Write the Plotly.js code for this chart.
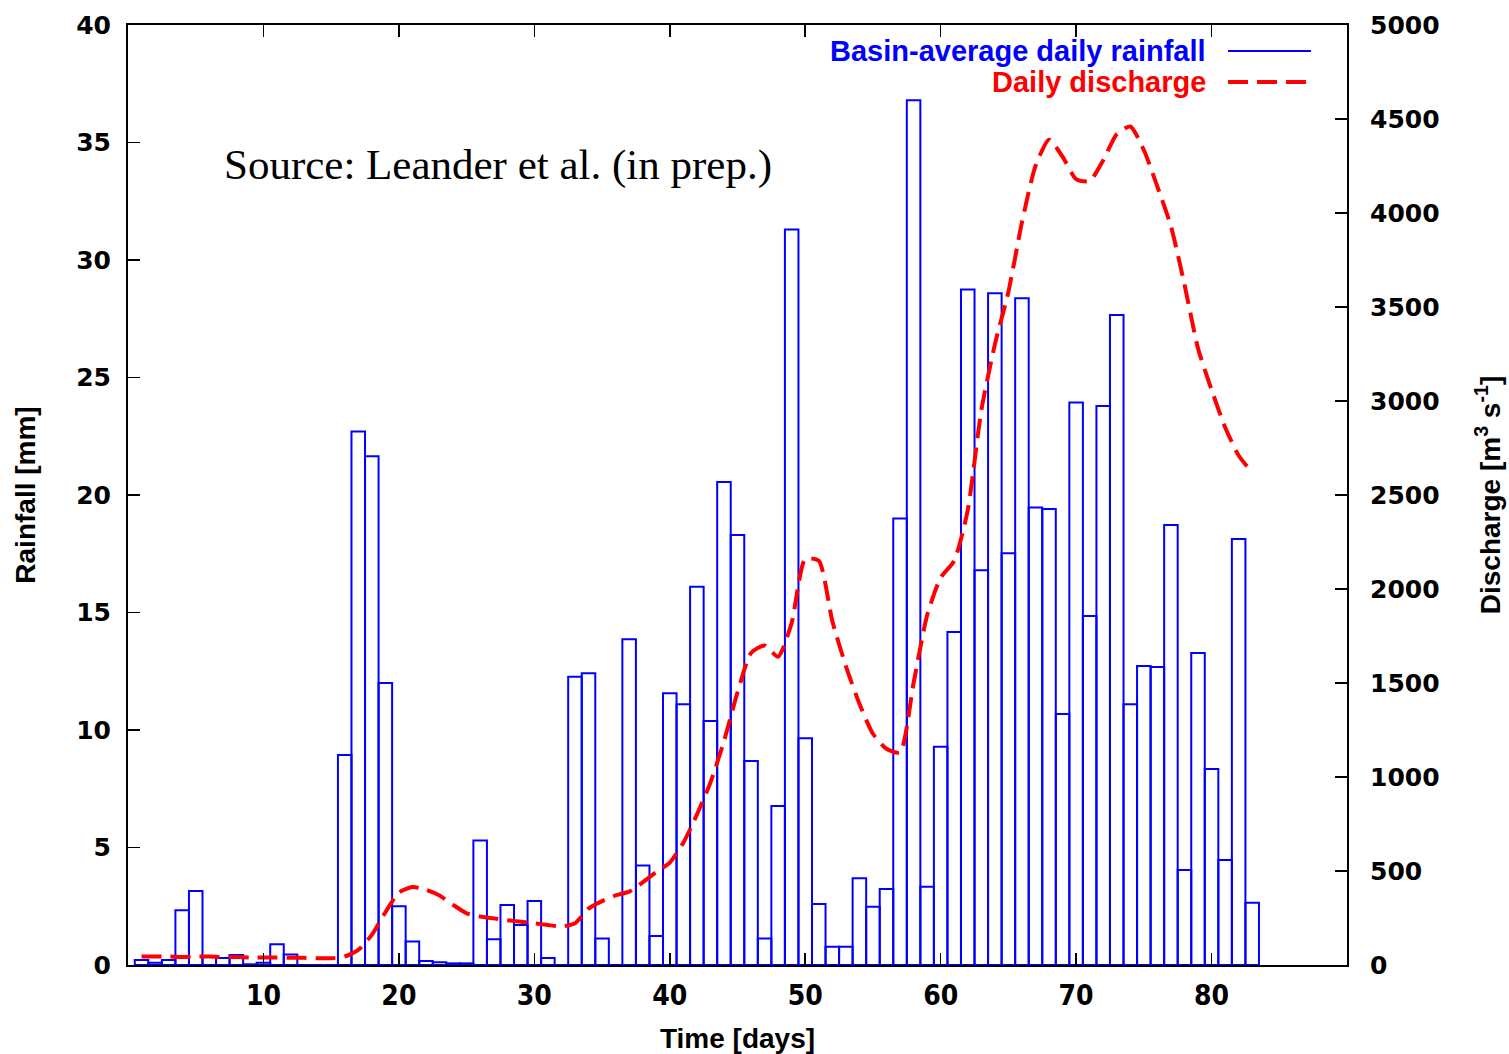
<!DOCTYPE html>
<html>
<head>
<meta charset="utf-8">
<script src="https://cdn.plot.ly/plotly-3.0.1.min.js"></script>
<style>html,body{margin:0;padding:0;background:#fff;}#chart{width:1509px;height:1054px;}</style>
</head>
<body>
<div id="chart"></div>
<script>
// Day index (bars centred on each day)
const days = [];
for (let d = 1; d <= 83; d++) days.push(d);

// Basin-average daily rainfall [mm]
const rainfall = [
  0.21, 0.10, 0.21, 2.33, 3.15, 0.38, 0.30, 0.43, 0.03, 0.10,
  0.88, 0.45, 0.00, 0.00, 0.00, 8.94, 22.70, 21.65, 12.00, 2.50,
  1.00, 0.17, 0.12, 0.07, 0.07, 5.30, 1.10, 2.55, 1.70, 2.72,
  0.30, 0.00, 12.27, 12.41, 1.13, 0.00, 13.86, 4.23, 1.23, 11.56,
  11.10, 16.10, 10.38, 20.55, 18.30, 8.68, 1.13, 6.77, 31.30, 9.65,
  2.60, 0.78, 0.78, 3.69, 2.48, 3.23, 19.00, 36.80, 3.33, 9.29,
  14.17, 28.75, 16.80, 28.58, 17.52, 28.37, 19.47, 19.40, 10.68, 23.94,
  14.85, 23.79, 27.66, 11.10, 12.72, 12.68, 18.72, 4.04, 13.28, 8.34,
  4.47, 18.13, 2.65
];

// Daily discharge [m3 s-1]
const discharge = [
  45, 45, 45, 43, 45, 45, 42, 42, 40, 40,
  40, 38, 38, 36, 36, 45, 80, 160, 280, 385,
  415, 400, 370, 320, 275, 258, 248, 238, 230, 222,
  213, 205, 222, 300, 340, 370, 390, 440, 495, 545,
  650, 800, 970, 1190, 1450, 1660, 1700, 1640, 1820, 2160,
  2150, 1830, 1590, 1390, 1230, 1150, 1130, 1500, 1860, 2060,
  2150, 2420, 2950, 3300, 3580, 3950, 4250, 4390, 4300, 4180,
  4170, 4280, 4420, 4460, 4335, 4140, 3930, 3620, 3280, 3060,
  2860, 2710, 2620
];

const xTicks = [10, 20, 30, 40, 50, 60, 70, 80];
const rainTicks = [0, 5, 10, 15, 20, 25, 30, 35, 40];
const dischargeTicks = [0, 500, 1000, 1500, 2000, 2500, 3000, 3500, 4000, 4500, 5000];

const BLUE = '#0000ff';
const RED = '#ff0000';
const tickFontY = {family: 'DejaVu Sans, Liberation Sans, sans-serif', size: 25, color: '#000', weight: 'bold'};
const tickFontX = {family: 'Liberation Sans Narrow, DejaVu Sans Condensed, Liberation Sans, sans-serif', size: 28, color: '#000', weight: 'bold'};
const titleFont = {family: 'Liberation Sans, Arial, sans-serif', size: 28, color: '#000', weight: 'bold'};

const traces = [
  {
    type: 'bar', x: days, y: rainfall, width: 1,
    marker: {color: 'rgba(0,0,0,0)', line: {color: BLUE, width: 2}},
    name: 'Basin-average daily rainfall', showlegend: false, yaxis: 'y'
  },
  {
    type: 'scatter', mode: 'lines', x: days, y: discharge, yaxis: 'y2',
    line: {color: RED, width: 4, dash: '20px,9px', shape: 'spline', smoothing: 0.6},
    name: 'Daily discharge', showlegend: false
  }
];

const layout = {
  width: 1509, height: 1054,
  margin: {l: 128, r: 162, t: 25, b: 89},
  paper_bgcolor: '#fff', plot_bgcolor: '#fff',
  showlegend: false,
  bargap: 0,
  xaxis: {
    range: [0, 90], tickvals: xTicks, ticktext: xTicks.map(String),
    ticks: 'inside', ticklen: 12, tickwidth: 1.5, tickcolor: '#000',
    showline: true, linecolor: '#000', linewidth: 2, mirror: 'ticks',
    showgrid: false, zeroline: false, tickfont: tickFontX, ticklabelstandoff: 4,
    title: {text: 'Time [days]', font: titleFont, standoff: 20}
  },
  yaxis: {
    range: [0, 40], tickvals: rainTicks, ticktext: rainTicks.map(String),
    ticks: 'inside', ticklen: 12, tickwidth: 1.5, tickcolor: '#000',
    showline: true, linecolor: '#000', linewidth: 2, mirror: false,
    showgrid: false, zeroline: false, tickfont: tickFontY, ticklabelstandoff: 10,
    title: {text: 'Rainfall [mm]', font: titleFont, standoff: 32}
  },
  yaxis2: {
    overlaying: 'y', side: 'right',
    range: [0, 5000], tickvals: dischargeTicks, ticktext: dischargeTicks.map(String),
    ticks: 'inside', ticklen: 12, tickwidth: 1.5, tickcolor: '#000',
    showline: true, linecolor: '#000', linewidth: 2,
    showgrid: false, zeroline: false, tickfont: tickFontY, ticklabelstandoff: 16,
    title: {text: 'Discharge [m<sup>3</sup> s<sup>-1</sup>]', font: titleFont, standoff: 42}
  },
  annotations: [
    {xref: 'paper', yref: 'paper', x: 0.886, y: 0.9723, xanchor: 'right', yanchor: 'middle',
     text: 'Basin-average daily rainfall', showarrow: false,
     font: {family: 'Liberation Sans, Arial, sans-serif', size: 29, color: BLUE, weight: 'bold'}},
    {xref: 'paper', yref: 'paper', x: 0.886, y: 0.9394, xanchor: 'right', yanchor: 'middle',
     text: 'Daily discharge', showarrow: false,
     font: {family: 'Liberation Sans, Arial, sans-serif', size: 29, color: RED, weight: 'bold'}},
    {xref: 'paper', yref: 'paper', x: 0.0771, y: 0.851, xanchor: 'left', yanchor: 'middle',
     text: 'Source: Leander et al. (in prep.)', showarrow: false,
     font: {family: 'Liberation Serif, Times New Roman, serif', size: 43, color: '#000'}}
  ],
  shapes: [
    {type: 'line', xref: 'paper', yref: 'paper', x0: 0.9024, x1: 0.9705, y0: 0.9723, y1: 0.9723,
     line: {color: BLUE, width: 2}},
    {type: 'line', xref: 'paper', yref: 'paper', x0: 0.9024, x1: 0.9705, y0: 0.9394, y1: 0.9394,
     line: {color: RED, width: 4, dash: '20px,9px'}}
  ]
};

Plotly.newPlot('chart', traces, layout, {staticPlot: true, displayModeBar: false});
</script>
</body>
</html>
